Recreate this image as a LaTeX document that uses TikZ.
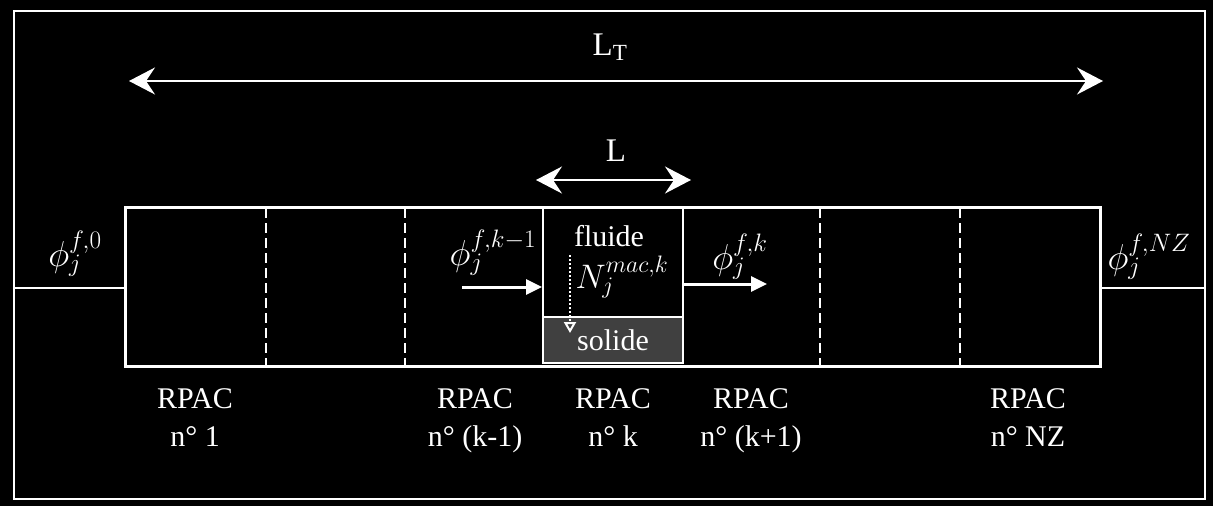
\RequirePackage{fix-cm}
\documentclass[tikz,border=0pt]{standalone}
\usepackage{fontspec}
\setmainfont{Liberation Serif}
\usetikzlibrary{arrows.meta}
\definecolor{solidgray}{HTML}{404040}
\begin{document}
\begin{tikzpicture}[x=1pt,y=-1pt,
  txt/.style={text=white, inner sep=0pt, outer sep=0pt, font=\fontsize{30}{38}\selectfont},
  bigtxt/.style={text=white, inner sep=0pt, font=\fontsize{33}{38}\selectfont},
  mathtxt/.style={text=white, inner sep=0pt, font=\fontsize{36}{40}\selectfont},
  dimarrow/.style={white, line width=2pt, {Stealth[length=26pt,width=27pt,inset=9pt]}-{Stealth[length=26pt,width=27pt,inset=9pt]}},
  fluxarrow/.style={white, line width=3pt, -{Triangle[length=16pt,width=15pt]}},
  celldash/.style={white, line width=2pt, dash pattern=on 10pt off 5pt},
  wline/.style={white, line width=2pt}]
\useasboundingbox (0,0) rectangle (1213,506);
\fill[black] (0,0) rectangle (1213,506);
\draw[wline] (14,11) rectangle (1205,499);
% main box
\node[draw=white, line width=3pt, minimum width=975pt, minimum height=159pt, inner sep=0pt, outer sep=0pt, anchor=north west] (box) at (125,207) {};
% cell dividers
\foreach \x in {266,405,820,960} \draw[celldash] (\x,208) -- (\x,365);
% solid box
\node[draw=white, fill=solidgray, line width=2.5pt, minimum width=140pt, minimum height=46pt, inner sep=0pt, anchor=north west, txt] (solid) at (543,317) {\raisebox{-5pt}{solide}};
\draw[wline] (543,207) -- (solid.north west);
\draw[wline] (683,207) -- (solid.north east);
\node[txt] (fluide) at (609,236) {fluide};
\node[mathtxt, font=\fontsize{34}{38}\selectfont] (nmac) at (622,277) {$N_j^{mac,k}$};
\coordinate (dtop) at (570,255);
\coordinate (dbot) at (570,333);
\draw[white, line width=2pt, dotted, -{Triangle[open,length=11pt,width=12pt,line width=2pt]}] (dtop) -- (dbot);
% inlet/outlet lines
\coordinate (inl) at (14,288);
\coordinate (inr) at (125,288);
\coordinate (outl) at (1100,288);
\coordinate (outr) at (1205,288);
\draw[wline] (inl) -- (inr);
\draw[wline] (outl) -- (outr);
% flux arrows
\coordinate (f1a) at (462,287);
\coordinate (f1b) at (542,287);
\coordinate (f2a) at (684,284);
\coordinate (f2b) at (767,284);
\draw[fluxarrow] (f1a) -- (f1b);
\draw[fluxarrow] (f2a) -- (f2b);
% dimension arrows
\coordinate (ltA) at (129,81);
\coordinate (ltB) at (1103,81);
\draw[dimarrow] (ltA) -- (ltB);
\node[bigtxt] (lt) at (610,47) {L\textsubscript{T}};
\coordinate (lA) at (536,180);
\coordinate (lB) at (691,180);
\draw[dimarrow] (lA) -- (lB);
\node[bigtxt] (l) at (616,151) {L};
% phi labels
\node[mathtxt] (phi0) at (75,254) {$\phi_j^{f,0}$};
\node[mathtxt] (phik1) at (493,253) {$\phi_j^{f,k-1}$};
\node[mathtxt] (phik) at (740,257) {$\phi_j^{f,k}$};
\node[mathtxt] (phinz) at (1149,257) {$\phi_j^{f,NZ}$};
% RPAC labels
\foreach \nm/\x/\lab in {r1/195/1, rk1/475/(k-1), rk/613/k, rkp/751/(k+1), rnz/1028/NZ}
  \node[txt, align=center, anchor=north] (\nm) at (\x,389) {RPAC\\n° \lab};
\end{tikzpicture}
\end{document}
